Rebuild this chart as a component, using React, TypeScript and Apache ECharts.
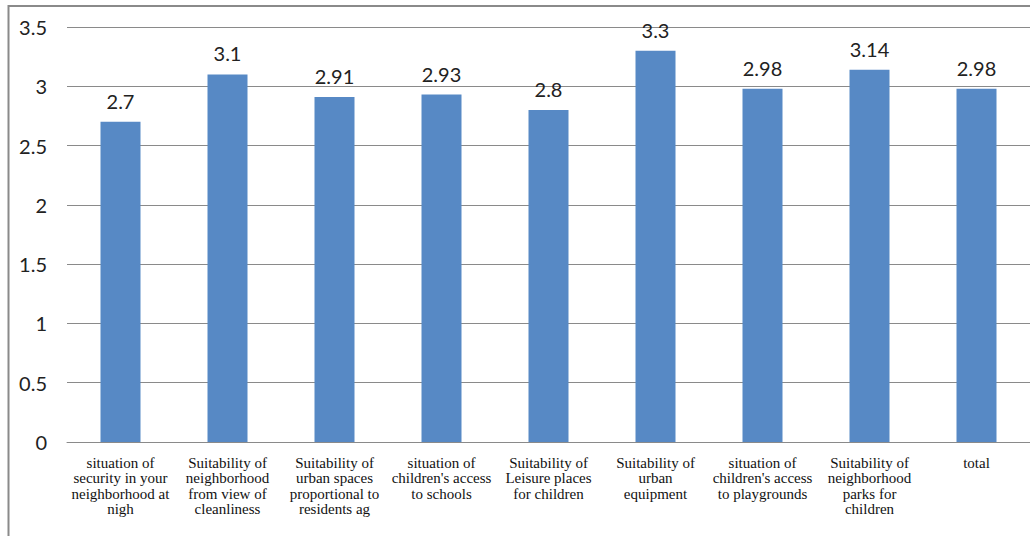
import React, { useEffect, useRef } from "react";
import * as echarts from "echarts";

const categories: string[] = [
  "situation of\nsecurity in your\nneighborhood at\nnigh",
  "Suitability of\nneighborhood\nfrom view of\ncleanliness",
  "Suitability of\nurban spaces\nproportional to\nresidents ag",
  "situation of\nchildren's access\nto schools",
  "Suitability of\nLeisure places\nfor children",
  "Suitability of\nurban\nequipment",
  "situation of\nchildren's access\nto playgrounds",
  "Suitability of\nneighborhood\nparks for\nchildren",
  "total",
];

const values: number[] = [2.7, 3.1, 2.91, 2.93, 2.8, 3.3, 2.98, 3.14, 2.98];

const yMin = 0;
const yMax = 3.5;
const yInterval = 0.5;

const SERIF = "Liberation Serif";
const SANS = "Lato";

export default function App() {
  const ref = useRef<HTMLDivElement>(null);

  useEffect(() => {
    if (!ref.current) return;
    const chart = echarts.init(ref.current, undefined, { renderer: "svg" });
    chart.setOption({
      animation: false,
      backgroundColor: "#ffffff",
      textStyle: { fontFamily: SERIF },
      graphic: [
        {
          type: "rect",
          shape: { x: 8.5, y: 6, width: 1040, height: 560 },
          style: { fill: "none", stroke: "#8a8a8a", lineWidth: 2 },
          silent: true,
          z: 10,
        },
      ],
      grid: { left: 67, right: -4, top: 27, bottom: 94, containLabel: false },
      xAxis: {
        type: "category",
        data: categories,
        axisTick: { show: false },
        axisLine: { show: true, lineStyle: { color: "#8a8a8a", width: 1 } },
        axisLabel: {
          interval: 0,
          margin: 13,
          fontFamily: SERIF,
          fontSize: 15,
          lineHeight: 15.5,
          color: "#111",
        },
      },
      yAxis: {
        type: "value",
        min: yMin,
        max: yMax,
        interval: yInterval,
        axisLine: { show: false },
        axisTick: { show: false },
        splitLine: { lineStyle: { color: "#8a8a8a", width: 1 } },
        axisLabel: {
          margin: 20,
          fontFamily: SANS,
          fontSize: 20,
          color: "#222",
          formatter: (v: number) => String(v),
        },
      },
      series: [
        {
          type: "bar",
          data: values,
          barWidth: 40,
          itemStyle: { color: "#5789c5" },
          label: {
            show: true,
            position: "top",
            distance: 11,
            fontFamily: SANS,
            fontSize: 20,
            color: "#222",
          },
        },
      ],
    });
    return () => chart.dispose();
  }, []);

  return (
    <div style={{ position: "fixed", left: 0, top: 0, width: 1030, height: 536, overflow: "hidden" }}>
      <div ref={ref} style={{ width: 1030, height: 536 }} />
    </div>
  );
}
